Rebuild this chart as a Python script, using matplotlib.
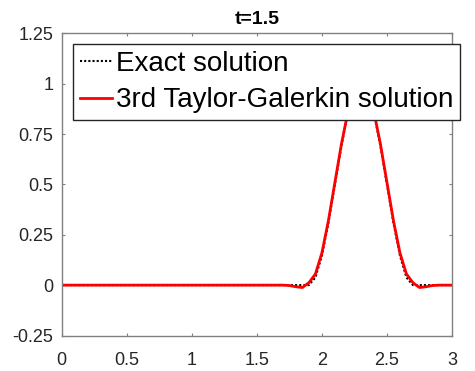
import matplotlib
matplotlib.use("Agg")
import matplotlib.pyplot as plt

# Exact solution
x_exact = [0.0, 1.9, 1.95, 2.0, 2.05, 2.1, 2.15, 2.2, 2.25, 2.3,
           2.35, 2.4, 2.45, 2.5, 2.55, 2.6, 2.65, 2.7, 3.0]
y_exact = [0.0, 0.0, 0.038, 0.146, 0.309, 0.5, 0.691, 0.854, 0.962, 1.0,
           0.962, 0.854, 0.691, 0.5, 0.309, 0.146, 0.038, 0.0, 0.0]

# 3rd Taylor-Galerkin solution
x_num = [0.0, 1.7, 1.75, 1.8, 1.85, 1.9, 1.95, 2.0, 2.05, 2.1, 2.15, 2.2,
         2.25, 2.3, 2.35, 2.4, 2.45, 2.5, 2.55, 2.6, 2.65, 2.7, 2.75,
         2.8, 2.85, 2.9, 3.0]
y_num = [0.0, 0.0, -0.002, -0.008, -0.012, 0.012, 0.055, 0.16, 0.32, 0.51,
         0.70, 0.86, 0.96, 0.99, 0.96, 0.86, 0.70, 0.51, 0.32, 0.16, 0.055,
         0.012, -0.012, -0.008, -0.002, 0.0, 0.0]

xticks = [0, 0.5, 1, 1.5, 2, 2.5, 3]
xticklabels = ['0', '0.5', '1', '1.5', '2', '2.5', '3']
yticks = [-0.25, 0, 0.25, 0.5, 0.75, 1, 1.25]
yticklabels = ['-0.25', '0', '0.25', '0.5', '0.75', '1', '1.25']

plt.rcParams['font.family'] = ['Liberation Sans', 'DejaVu Sans']
fig = plt.figure(figsize=(4.75, 3.71), dpi=100)
ax = fig.add_axes([61.7/475, (371 - 335.5)/371, 390.3/475, 302.2/371])

ax.plot(x_exact, y_exact, color='black', linestyle=(0, (1, 1)), linewidth=1.5,
        label='Exact solution')
ax.plot(x_num, y_num, color='red', linewidth=2, label='3rd Taylor-Galerkin solution')

ax.set_xlim(0, 3)
ax.set_ylim(-0.25, 1.25)
ax.set_xticks(xticks)
ax.set_xticklabels(xticklabels)
ax.set_yticks(yticks)
ax.set_yticklabels(yticklabels)
ax.tick_params(direction='in', top=True, right=True, length=2.5, width=0.8,
               colors='#808080', labelcolor='#262626', labelsize=13)
ax.tick_params(axis='y', pad=6)
ax.tick_params(axis='x', pad=12)
for s in ax.spines.values():
    s.set_color('#808080')
    s.set_linewidth(1.0)

ax.set_title('t=1.5', fontsize=14, fontweight='bold', pad=7)

leg = ax.legend(loc='upper left', bbox_to_anchor=(73.3/475, 1 - 44.3/371),
                bbox_transform=fig.transFigure, fontsize=20, frameon=True,
                fancybox=False, framealpha=1, borderaxespad=0, handlelength=1.17,
                handletextpad=0.14, labelspacing=0.37, borderpad=0.24)
leg.get_frame().set_edgecolor('#262626')
leg.get_frame().set_linewidth(1.0)

fig.savefig('out.png', dpi=100)
